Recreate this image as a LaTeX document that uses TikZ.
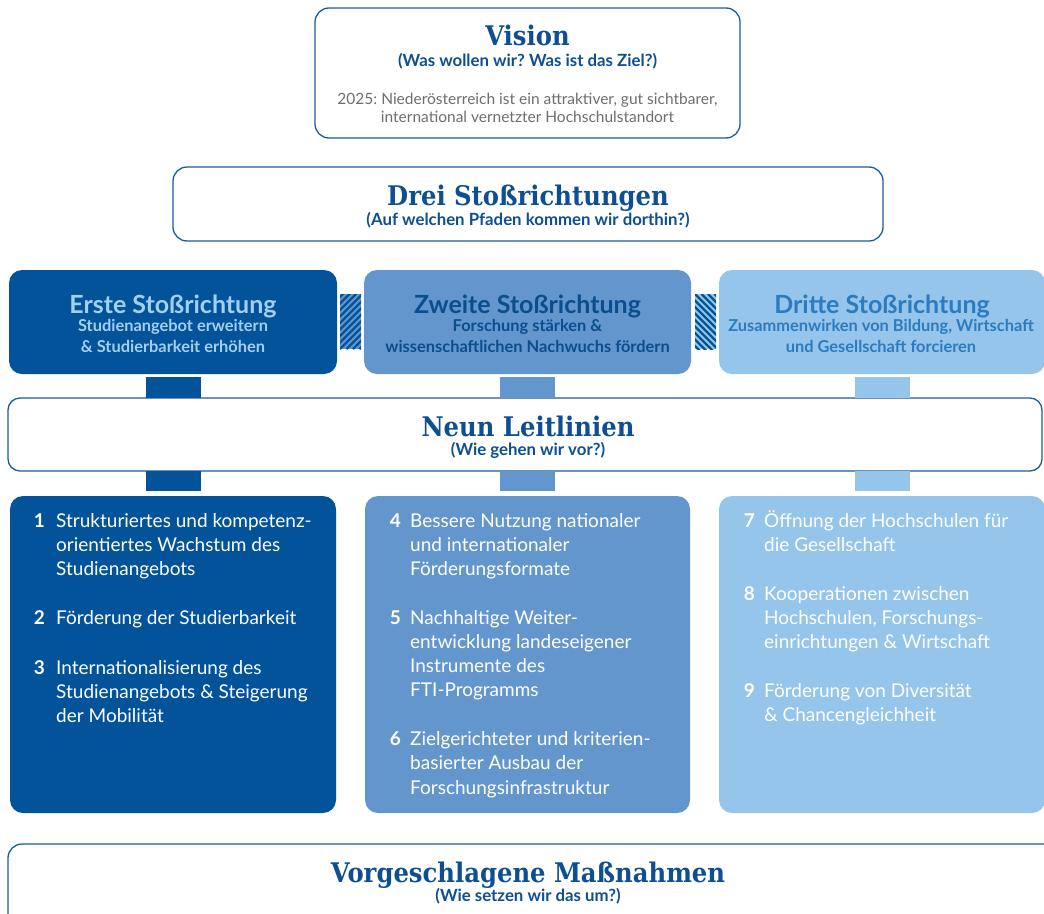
\documentclass[tikz,border=0pt]{standalone}
\usepackage{fontspec}
\setmainfont{Lato}
\newfontfamily\ttlfont{DejaVu Serif}[FakeStretch=0.9]
\usetikzlibrary{calc}
\frenchspacing
\definecolor{cA}{HTML}{02539A}
\definecolor{cB}{HTML}{6396CC}
\definecolor{cC}{HTML}{95C5EA}
\definecolor{bord}{HTML}{1B5C9C}
\definecolor{tblue}{HTML}{0D4F92}
\definecolor{vgray}{HTML}{6E6E6E}
\definecolor{tA}{HTML}{A3CFF0}
\definecolor{tB}{HTML}{0B4E8E}
\definecolor{tC}{HTML}{2B7BC0}
\tikzset{
  wbox/.style={draw=bord, line width=1.3pt, rounded corners=14pt, fill=white, inner sep=0pt},
  cbox/.style={rounded corners=13pt, inner sep=0pt},
  ttl/.style={font=\ttlfont\bfseries\fontsize{27}{30}\selectfont, text=tblue, inner sep=0pt},
  subq/.style={font=\bfseries\fontsize{16.8}{19}\selectfont, text=tblue, inner sep=0pt},
  vtxt/.style={font=\fontsize{15.5}{18}\selectfont, text=vgray, align=center, inner sep=0pt},
  htl/.style={font=\bfseries\fontsize{25}{28}\selectfont, inner sep=0pt},
  hsub/.style={font=\bfseries\fontsize{16.4}{21}\selectfont, align=center, inner sep=0pt},
  num/.style={font=\bfseries\fontsize{19}{24.3}\selectfont, text=white, inner sep=0pt, anchor=base east},
  item/.style={font=\fontsize{19}{24.3}\selectfont, text=white, align=left, inner sep=0pt, anchor=base west}
}
\begin{document}
\begin{tikzpicture}[x=1pt,y=-1pt]
\useasboundingbox (0,0) rectangle (1044,913);
\clip (0,0) rectangle (1044,913);

% boxes
\node[wbox, minimum width=425pt, minimum height=130pt] (vision) at (527.5,73) {};
\node[wbox, minimum width=710pt, minimum height=74pt] (drei) at (528,204) {};
\node[cbox, fill=cA, minimum width=328pt, minimum height=104pt] (e1) at (173,322) {};
\node[cbox, fill=cB, minimum width=327pt, minimum height=104pt] (e2) at (527.5,322) {};
\node[cbox, fill=cC, minimum width=326pt, minimum height=104pt] (e3) at (882,322) {};
\node[wbox, rounded corners=12pt, minimum width=1034pt, minimum height=73pt] (neun) at (525,434.5) {};
\node[cbox, fill=cA, minimum width=326pt, minimum height=317pt] (b1) at (173,654.5) {};
\node[cbox, fill=cB, minimum width=325pt, minimum height=317pt] (b2) at (527.5,654.5) {};
\node[cbox, fill=cC, minimum width=326pt, minimum height=317pt] (b3) at (882,654.5) {};
\node[wbox, minimum width=1052pt, minimum height=96pt] (mass) at (534,892) {};

% connectors
\foreach \e/\b/\c in {e1/b1/cA, e2/b2/cB, e3/b3/cC}{
  \fill[\c] ($(\e.south)+(-27.5,3)$) rectangle ($(\e.south |- neun.north)+(27.5,0.6)$);
  \fill[\c] ($(\e.south |- neun.south)+(-27.5,-0.6)$) rectangle ($(\e.south |- \b.north)+(27.5,-5)$);
}

% hatches
\begin{scope}
  \clip (340,294) rectangle (361,349);
  \fill[cB] (340,294) rectangle (361,349);
  \foreach \k in {-12,...,4}{
    \draw[cA, line width=2.4pt] ({340+\k*6.5},349) -- ++(70,-70);
  }
\end{scope}
\begin{scope}
  \clip (695,294) rectangle (716,349);
  \fill[cC] (695,294) rectangle (716,349);
  \foreach \k in {-12,...,4}{
    \draw[cA, line width=2.4pt] ({695+\k*6.5},294) -- ++(70,70);
  }
\end{scope}

% vision
\node[ttl, anchor=base] (visT) at (527.5,45) {Vision};
\node[subq, anchor=base] (visS) at (527.5,66) {(Was wollen wir? Was ist das Ziel?)};
\node[vtxt, anchor=base] (visB) at (527.5,122) {2025: Niederösterreich ist ein attraktiver, gut sichtbarer,\\international vernetzter Hochschulstandort};

% drei
\node[ttl, anchor=base] (dreiT) at (528,205) {Drei Stoßrichtungen};
\node[subq, anchor=base] (dreiS) at (528,225) {(Auf welchen Pfaden kommen wir dorthin?)};

% headers
\node[htl, text=tA, anchor=base] (h1) at (173,313) {Erste Stoßrichtung};
\node[hsub, text=tA, anchor=base] (s1) at (173,352) {Studienangebot erweitern\\\& Studierbarkeit erhöhen};
\node[htl, text=tB, anchor=base] (h2) at (527.5,313) {Zweite Stoßrichtung};
\node[hsub, text=tB, anchor=base] (s2) at (527.5,352) {Forschung stärken \&\\wissenschaftlichen Nachwuchs fördern};
\node[htl, text=tC, anchor=base] (h3) at (882,313) {Dritte Stoßrichtung};
\node[hsub, text=tC, anchor=base] (s3) at (881,352) {Zusammenwirken von Bildung, Wirtschaft\\und Gesellschaft forcieren};

% neun
\node[ttl, anchor=base] (neunT) at (528,436) {Neun Leitlinien};
\node[subq, anchor=base] (neunS) at (528,455) {(Wie gehen wir vor?)};

% items column 1
\node[num] (n1) at (45,527) {1};
\node[item] (i1) at (56,575.6) {Strukturiertes und kompetenz-\\orientiertes Wachstum des\\Studienangebots};
\node[num] (n2) at (45,624) {2};
\node[item] (i2) at (56,624) {Förderung der Studierbarkeit};
\node[num] (n3) at (45,674) {3};
\node[item] (i3) at (56,722.6) {Internationalisierung des\\Studienangebots \& Steigerung\\der Mobilität};

% items column 2
\node[num] (n4) at (401,527) {4};
\node[item] (i4) at (410,575.6) {Bessere Nutzung nationaler\\und internationaler\\Förderungsformate};
\node[num] (n5) at (401,624) {5};
\node[item] (i5) at (410,696.9) {Nachhaltige Weiter-\\entwicklung landeseigener\\Instrumente des\\FTI-Programms};
\node[num] (n6) at (401,745.5) {6};
\node[item] (i6) at (410,794.1) {Zielgerichteter und kriterien-\\basierter Ausbau der\\Forschungsinfrastruktur};

% items column 3
\node[num] (n7) at (755,527) {7};
\node[item] (i7) at (764,551.3) {Öffnung der Hochschulen für\\die Gesellschaft};
\node[num] (n8) at (755,600) {8};
\node[item] (i8) at (764,648.6) {Kooperationen zwischen\\Hochschulen, Forschungs-\\einrichtungen \& Wirtschaft};
\node[num] (n9) at (755,697) {9};
\node[item] (i9) at (764,721.3) {Förderung von Diversität\\\& Chancengleichheit};

% massnahmen
\node[ttl, anchor=base] (massT) at (528,882) {Vorgeschlagene Maßnahmen};
\node[subq, anchor=base] (massS) at (528,901) {(Wie setzen wir das um?)};
\end{tikzpicture}
\end{document}
